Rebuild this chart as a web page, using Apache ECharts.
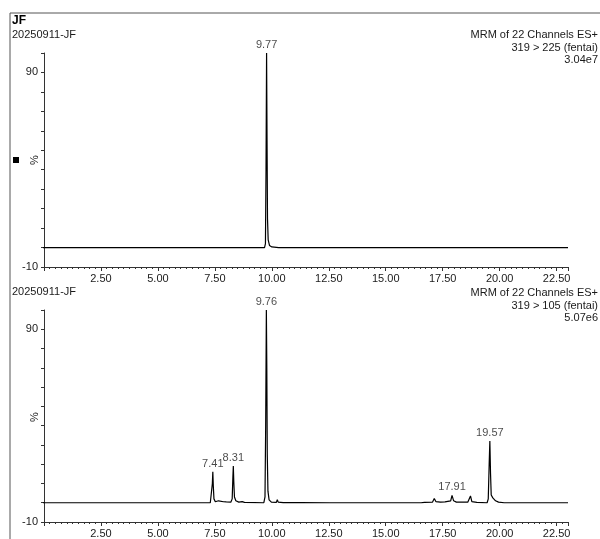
<!DOCTYPE html>
<html><head><meta charset="utf-8">
<script src="https://cdn.jsdelivr.net/npm/echarts@6/dist/echarts.min.js"></script>
<style>html,body{margin:0;padding:0;background:#fff}#c{width:600px;height:539px}</style>
</head><body><div id="c"></div>
<script>
// ---- data ----
const xMin = 0, xMax = 23.0;
const xTickStep = 2.5;
const yMin = -10, yMax = 100, yStep = 10;
const yLabelValues = [90, -10];
const plotTitle = 'JF';
const sampleName = '20250911-JF';
const topHeader = ['MRM of 22 Channels ES+', '319 > 225 (fentai)', '3.04e7'];
const bottomHeader = ['MRM of 22 Channels ES+', '319 > 105 (fentai)', '5.07e6'];

const topTrace = [
  [-0.15,0],[9.68,0],[9.72,2],[9.745,40],[9.77,100],[9.79,55],[9.81,15],[9.84,4],
  [9.90,1],[10.0,0.3],[10.3,0],[23.0,0]
];
const bottomTrace = [
  [-0.15,0],[5.90,0],[5.97,0.6],[6.03,0],[7.30,0],[7.36,1],[7.39,10],[7.41,16],[7.43,9],
  [7.46,2],[7.52,0.5],[7.60,0.3],[7.66,1],[7.72,0.3],[7.88,0.5],[7.94,1.2],[8.00,0.4],
  [8.20,0.3],[8.26,2],[8.29,13],[8.31,19],[8.33,11],[8.36,3],[8.42,1],[8.55,0.3],
  [8.70,0.6],[8.80,0.2],[9.65,0],[9.70,3],[9.73,40],[9.76,100],[9.78,70],[9.80,25],
  [9.83,6],[9.88,1.5],[9.98,0.3],[10.20,0.2],[10.24,1.6],[10.28,0.3],[10.50,0.1],
  [11.30,0.1],[11.34,1],[11.38,0.1],[12.55,0],[12.59,0.6],[12.63,0],[15.95,0],
  [16.00,0.8],[16.05,0],[16.55,0],[16.62,0.7],[16.70,0.2],[17.05,0.3],[17.13,2.2],
  [17.20,0.6],[17.40,0.3],[17.60,0.4],[17.85,1],[17.91,3.8],[17.98,1],[18.10,0.3],
  [18.60,0.3],[18.67,1.2],[18.72,3.5],[18.78,0.6],[19.00,0.2],[19.45,0],[19.50,2],
  [19.54,20],[19.57,32],[19.60,15],[19.63,4],[19.70,2.5],[19.76,3],[19.82,1],
  [19.95,0.3],[20.20,0],[23.0,0]
];
const topPeaks = [[9.77,100]];
const bottomPeaks = [[7.41,16],[8.31,19],[9.76,100],[17.91,3.8],[19.57,32]];

// ---- chart ----
const FONT = 'Liberation Sans, Arial, sans-serif';
const TXT = '#1a1a1a';
const AX = '#333';

function xAxisDef(gi) {
  return {
    type: 'value', gridIndex: gi, min: xMin, max: xMax, interval: xTickStep,
    axisLine: { show: true, onZero: false, lineStyle: { color: AX, width: 1 } },
    axisTick: { show: true, length: 4, lineStyle: { color: AX } },
    minorTick: { show: true, splitNumber: 10, length: 2, lineStyle: { color: AX } },
    splitLine: { show: false }, minorSplitLine: { show: false },
    axisLabel: { show: true, margin: 6, color: TXT, fontSize: 11, fontFamily: FONT,
      showMinLabel: false, showMaxLabel: false,
      formatter: v => v === 0 ? '' : v.toFixed(2) }
  };
}
function yAxisDef(gi) {
  return {
    type: 'value', gridIndex: gi, min: yMin, max: yMax, interval: yStep,
    axisLine: { show: true, onZero: false, lineStyle: { color: AX, width: 1 } },
    axisTick: { show: true, length: 3, lineStyle: { color: AX } },
    splitLine: { show: false },
    axisLabel: { show: true, margin: 6, color: TXT, fontSize: 11, fontFamily: FONT,
      showMaxLabel: true, showMinLabel: true,
      formatter: v => yLabelValues.includes(v) ? String(v) : '' }
  };
}
function traceSeries(data, gi) {
  return { type: 'line', xAxisIndex: gi, yAxisIndex: gi, data: data, showSymbol: false,
    symbol: 'none', clip: false, lineStyle: { color: '#000', width: 1.2 }, animation: false, silent: true };
}
function peakSeries(data, gi) {
  return { type: 'scatter', xAxisIndex: gi, yAxisIndex: gi, data: data, symbolSize: 1,
    itemStyle: { color: 'rgba(0,0,0,0)' }, animation: false, silent: true,
    label: { show: true, position: 'top', distance: 2, color: TXT, fontSize: 11, fontFamily: FONT,
      formatter: p => p.value[0].toFixed(2) } };
}
function headerTexts(lines, y0) {
  return lines.map((t, i) => ({ type: 'text', x: 598, y: y0 + i * 12.5,
    style: { text: t, align: 'right', verticalAlign: 'middle', fill: TXT, font: '11px ' + FONT } }));
}

const chart = echarts.init(document.getElementById('c'), null, { renderer: 'canvas' });
chart.setOption({
  animation: false,
  backgroundColor: '#fff',
  grid: [
    { left: 44, top: 53, width: 524, height: 214 },
    { left: 44, top: 310, width: 524, height: 215 }
  ],
  xAxis: [xAxisDef(0), xAxisDef(1)],
  yAxis: [yAxisDef(0), yAxisDef(1)],
  series: [traceSeries(topTrace, 0), traceSeries(bottomTrace, 1), peakSeries(topPeaks, 0), peakSeries(bottomPeaks, 1)],
  graphic: [
    { type: 'line', shape: { x1: 10, y1: 13, x2: 600, y2: 13 }, style: { stroke: '#555', lineWidth: 1 } },
    { type: 'line', shape: { x1: 10, y1: 13, x2: 10, y2: 539 }, style: { stroke: '#555', lineWidth: 1 } },
    { type: 'text', x: 12, y: 21, style: { text: plotTitle, align: 'left', verticalAlign: 'middle', fill: '#000', font: 'bold 12px ' + FONT } },
    { type: 'text', x: 12, y: 35, style: { text: sampleName, align: 'left', verticalAlign: 'middle', fill: TXT, font: '11px ' + FONT } },
    { type: 'text', x: 12, y: 292, style: { text: sampleName, align: 'left', verticalAlign: 'middle', fill: TXT, font: '11px ' + FONT } },
    { type: 'rect', shape: { x: 13, y: 157, width: 6, height: 6 }, style: { fill: '#000' } },
    { type: 'text', x: 35, y: 160, rotation: Math.PI / 2, style: { text: '%', align: 'center', verticalAlign: 'middle', fill: TXT, font: '11px ' + FONT } },
    { type: 'text', x: 35, y: 417, rotation: Math.PI / 2, style: { text: '%', align: 'center', verticalAlign: 'middle', fill: TXT, font: '11px ' + FONT } },
    ...headerTexts(topHeader, 35),
    ...headerTexts(bottomHeader, 293)
  ]
});
</script></body></html>
